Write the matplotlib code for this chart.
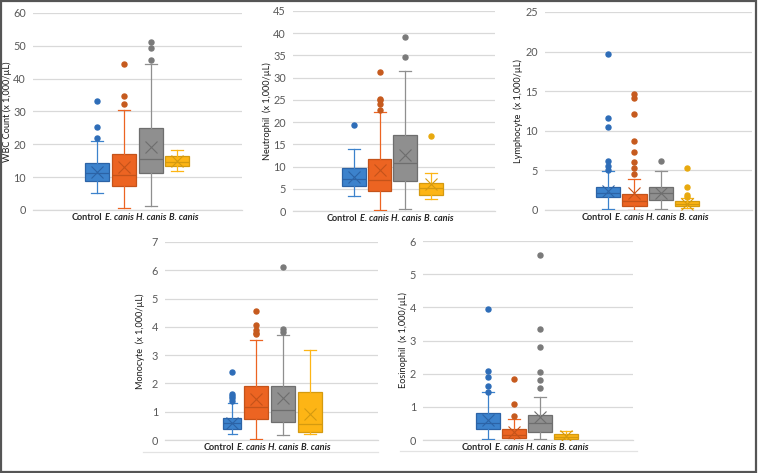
import matplotlib
matplotlib.use("Agg")
import matplotlib.pyplot as plt
from matplotlib.lines import Line2D
from matplotlib.patches import Rectangle
from matplotlib import font_manager

W, H = 758, 473

names = {f.name for f in font_manager.fontManager.ttflist}
FONT = "Lato" if "Lato" in names else "DejaVu Sans"
LABEL_FONT = "Liberation Sans Narrow" if "Liberation Sans Narrow" in names else FONT
plt.rcParams["font.family"] = [FONT, "DejaVu Sans"]

groups = ["Control", "E. canis", "H. canis", "B. canis"]

wbc_q1 = [8.85, 7.3, 11.2, 13.5]
wbc_med = [11.2, 10.7, 15.6, 14.5]
wbc_q3 = [14.2, 17.0, 24.9, 16.5]
wbc_lo = [5.3, 0.5, 1.3, 12.0]
wbc_hi = [20.9, 30.5, 44.4, 18.4]
wbc_mean = [11.7, 13.2, 19.2, 15.0]
wbc_fl = [[33.2, 25.3, 21.9], [44.6, 34.6, 32.3], [51.2, 49.2, 45.7], []]

neu_q1 = [5.65, 4.45, 6.8, 3.5]
neu_med = [7.2, 6.9, 10.9, 5.2]
neu_q3 = [9.7, 11.8, 17.2, 6.3]
neu_lo = [3.4, 0.15, 0.4, 2.6]
neu_hi = [13.9, 22.2, 31.6, 8.6]
neu_mean = [7.7, 9.2, 12.7, 6.0]
neu_fl = [[19.3], [31.3, 25.3, 25.0, 24.0, 22.8], [39.1, 34.7], [16.8]]

lym_q1 = [1.6, 0.55, 1.2, 0.5]
lym_med = [2.1, 1.15, 2.2, 0.8]
lym_q3 = [2.85, 2.0, 2.85, 1.1]
lym_lo = [0.13, 0.0, 0.13, 0.25]
lym_hi = [4.9, 3.95, 4.9, 1.5]
lym_mean = [2.45, 2.15, 2.2, 0.75]
lym_fl = [[19.75, 11.66, 10.45, 6.2, 5.6, 5.1],
          [14.6, 14.1, 12.15, 8.7, 7.35, 6.05, 5.3, 4.6],
          [6.15], [5.3, 2.95, 1.9, 1.6]]

mon_q1 = [0.40, 0.74, 0.65, 0.27]
mon_med = [0.59, 1.17, 1.05, 0.55]
mon_q3 = [0.79, 1.91, 1.91, 1.68]
mon_lo = [0.2, 0.04, 0.17, 0.22]
mon_hi = [1.32, 3.55, 3.7, 3.18]
mon_mean = [0.61, 1.44, 1.5, 0.91]
mon_fl = [[2.42, 1.62, 1.55, 1.47, 1.38], [4.56, 4.05, 3.9, 3.8, 3.73],
          [6.1, 3.92, 3.82], []]

eos_q1 = [0.33, 0.06, 0.24, 0.02]
eos_med = [0.51, 0.16, 0.52, 0.1]
eos_q3 = [0.8, 0.32, 0.76, 0.18]
eos_lo = [0.03, 0.0, 0.02, 0.0]
eos_hi = [1.44, 0.62, 1.3, 0.27]
eos_mean = [0.61, 0.25, 0.69, 0.12]
eos_fl = [[3.94, 2.08, 1.89, 1.63, 1.46], [1.83, 1.1, 0.72],
          [5.59, 3.36, 2.8, 2.06, 1.82, 1.56], []]

fill_colors = ["#3C82CC", "#EC6422", "#8F8F8F", "#FDB515"]
edge_colors = ["#2C63A6", "#C4531A", "#6E6E6E", "#D49A10"]
flier_colors = ["#2E6DB8", "#C65A1E", "#7A7A7A", "#E8A90E"]

panels = [
    dict(label="WBC Count (x 1,000/\u00b5L)", ymax=60, step=10,
         q1=wbc_q1, med=wbc_med, q3=wbc_q3, lo=wbc_lo, hi=wbc_hi, mean=wbc_mean, fl=wbc_fl,
         px=(33, 242, 13, 210), xlim=(-2.41, 5.42), w=[0.9] * 4, pos=[0, 1, 2, 3], ylx=12),
    dict(label="Neutrophil  (x 1,000/\u00b5L)", ymax=45, step=5,
         q1=neu_q1, med=neu_med, q3=neu_q3, lo=neu_lo, hi=neu_hi, mean=neu_mean, fl=neu_fl,
         px=(293, 495, 11, 211), xlim=(-2.37, 5.49), w=[0.92] * 4, pos=[0, 1, 2, 3], ylx=272),
    dict(label="Lymphocyte  (x 1,000/\u00b5L)", ymax=25, step=5,
         q1=lym_q1, med=lym_med, q3=lym_q3, lo=lym_lo, hi=lym_hi, mean=lym_mean, fl=lym_fl,
         px=(545, 752, 12, 210), xlim=(-2.4, 5.47), w=[0.92] * 4, pos=[0, 1, 2, 3], ylx=523),
    dict(label="Monocyte  (x 1,000/\u00b5L)", ymax=7, step=1,
         q1=mon_q1, med=mon_med, q3=mon_q3, lo=mon_lo, hi=mon_hi, mean=mon_mean, fl=mon_fl,
         px=(165, 378, 242, 440), xlim=(-2.37, 5.52), w=[0.68, 0.92, 0.92, 0.92], pos=[0.12, 1, 2, 3], ylx=145),
    dict(label="Eosinophil  (x 1,000/\u00b5L)", ymax=6, step=1,
         q1=eos_q1, med=eos_med, q3=eos_q3, lo=eos_lo, hi=eos_hi, mean=eos_mean, fl=eos_fl,
         px=(423, 633, 241, 440), xlim=(-2.5, 5.57), w=[0.94] * 4, pos=[0, 1, 2, 3], ylx=408),
]

fig = plt.figure(figsize=(W / 100, H / 100), dpi=100)
fig.patch.set_facecolor("white")

label_sets = []
for p in panels:
    x0, x1, ytop, ybot = p["px"]
    ax = fig.add_axes([x0 / W, 1 - ybot / H, (x1 - x0) / W, (ybot - ytop) / H])
    for i in range(4):
        st = dict(med=p["med"][i], q1=p["q1"][i], q3=p["q3"][i],
                  whislo=p["lo"][i], whishi=p["hi"][i], mean=p["mean"][i],
                  fliers=p["fl"][i], label=groups[i])
        ax.bxp([st], positions=[p["pos"][i]], widths=[p["w"][i]], patch_artist=True,
               showmeans=True, showcaps=True, showfliers=True,
               boxprops=dict(facecolor=fill_colors[i], edgecolor=edge_colors[i], linewidth=0.9),
               medianprops=dict(color=edge_colors[i], linewidth=0.9),
               whiskerprops=dict(color=fill_colors[i], linewidth=0.9),
               capprops=dict(color=fill_colors[i], linewidth=0.9),
               meanprops=dict(marker="x", markeredgecolor=edge_colors[i], markersize=8,
                              markeredgewidth=0.8, linestyle="none"),
               flierprops=dict(marker="o", markerfacecolor=flier_colors[i],
                               markeredgecolor=flier_colors[i], markersize=3.6, linestyle="none"),
               zorder=3)
    ax.set_xlim(*p["xlim"])
    ax.set_ylim(0, p["ymax"])
    ax.set_yticks(list(range(0, p["ymax"] + 1, p["step"])))
    ax.yaxis.grid(True, color="#D9D9D9", linewidth=0.9)
    ax.set_axisbelow(True)
    for s in ["left", "right", "top"]:
        ax.spines[s].set_visible(False)
    ax.spines["bottom"].set_color("#D9D9D9")
    ax.spines["bottom"].set_linewidth(0.9)
    ax.tick_params(axis="y", length=0, labelsize=7.8, colors="#595959", pad=5)
    ax.set_xticks([])
    ax.set_ylabel(p["label"], fontsize=6.6, color="#1a1a1a")
    ax.yaxis.set_label_coords((p["ylx"] - x0) / (x1 - x0), 0.5)
    texts = []
    for k, g in enumerate(groups):
        t = ax.text(0.5, -0.014, g, transform=ax.transAxes,
                    ha="left", va="top", fontsize=6.6, color="#262626",
                    family=[LABEL_FONT, "DejaVu Sans"], fontweight="bold",
                    fontstyle="normal" if k == 0 else "italic")
        texts.append(t)
    label_sets.append((ax, p, texts))

# lay out the category labels as one line centred under the boxes
fig.canvas.draw()
renderer = fig.canvas.get_renderer()
target_total = 118.0
for ax, p, texts in label_sets:
    x0, x1 = p["px"][0], p["px"][1]
    widths = [t.get_window_extent(renderer).width for t in texts]
    gap = max(2.5, (target_total - sum(widths)) / 3.0)
    total = sum(widths) + 3 * gap
    lo, hi = p["xlim"]
    centre_px = x0 + (1.42 - lo) / (hi - lo) * (x1 - x0)
    cur = centre_px - total / 2.0
    for t, w in zip(texts, widths):
        t.set_x((cur - x0) / (x1 - x0))
        cur += w + gap

# light chart-area lines below bottom panels
for (xa, xb, yy) in [(143, 378, 452), (400, 637, 451)]:
    fig.add_artist(Line2D([xa / W, xb / W], [1 - yy / H, 1 - yy / H], color="#E3E3E3", lw=0.9))

# outer frame
fig.add_artist(Rectangle((0.001, 0.002), 0.997, 0.996, transform=fig.transFigure,
                         fill=False, edgecolor="#555555", linewidth=1.6))

fig.savefig("out.png", dpi=100)
